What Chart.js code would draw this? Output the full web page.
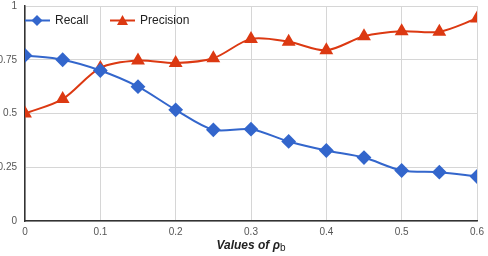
<!DOCTYPE html>
<html>
<head>
<meta charset="utf-8">
<script src="https://cdn.jsdelivr.net/npm/chart.js@4"></script>
<style>
  html, body { margin:0; padding:0; background:#fff; }
  #wrap { position:relative; width:488px; height:256px; }
  #xtitle { position:absolute; left:25px; width:452px; top:238px; text-align:center;
            font-family: Arial, "Liberation Sans", sans-serif; font-size:12px; font-weight:bold; font-style:italic; color:#222; }
  #xtitle sub { font-weight:normal; font-style:normal; font-size:10px; vertical-align:-2px; }
  .lg { position:absolute; top:12px; height:16px; display:flex; align-items:center;
        font-family: Arial, "Liberation Sans", sans-serif; font-size:12px; color:#222; }
  .lg svg { margin-right:5px; }
  canvas { display:block; }
</style>
</head>
<body>
<div id="wrap">
  <canvas id="c" width="488" height="256"></canvas>
  <div id="legend"></div>
  <div id="xtitle">Values of ρ<sub>b</sub></div>
</div>
<script>
const categories = [0, 0.05, 0.1, 0.15, 0.2, 0.25, 0.3, 0.35, 0.4, 0.45, 0.5, 0.55, 0.6];
const recall    = [0.77, 0.75, 0.70, 0.625, 0.517, 0.424, 0.427, 0.37, 0.328, 0.295, 0.235, 0.227, 0.207];
const precision = [0.50, 0.567, 0.712, 0.746, 0.735, 0.757, 0.847, 0.834, 0.794, 0.859, 0.882, 0.88, 0.942];
const xTickLabels = ['0', '0.1', '0.2', '0.3', '0.4', '0.5', '0.6'];
const yTickLabels = ['0', '0.25', '0.5', '0.75', '1'];
const seriesNames = ['Recall', 'Precision'];
const seriesColors = ['#3366CC', '#DC3912'];

const FONT = "Arial, 'Liberation Sans', sans-serif";

// HTML legend (real text), icons = line + marker
const legendLeft = [25, 110];
const markerShapes = [
  c => `<polygon points="12,7 17.5,12.5 12,18 6.5,12.5" fill="${c}"/>`,
  c => `<polygon points="12.5,7 18,17 7,17" fill="${c}"/>`
];
const legendEl = document.getElementById('legend');
seriesNames.forEach((name, i) => {
  const d = document.createElement('div');
  d.className = 'lg';
  d.style.left = legendLeft[i] + 'px';
  d.innerHTML = `<svg width="25" height="24"><line x1="0" y1="12.5" x2="25" y2="12.5" stroke="${seriesColors[i]}" stroke-width="2"/>${markerShapes[i](seriesColors[i])}</svg>`;
  const s = document.createElement('span');
  s.textContent = name;
  d.appendChild(s);
  legendEl.appendChild(d);
});

const toPoints = arr => categories.map((c, i) => ({ x: c, y: arr[i] }));

new Chart(document.getElementById('c'), {
  type: 'line',
  data: {
    datasets: [
      { label: seriesNames[0], data: toPoints(recall), borderColor: seriesColors[0], backgroundColor: seriesColors[0],
        borderWidth: 2, pointStyle: 'rectRot', pointRadius: 6, pointHoverRadius: 6, tension: 0.3 },
      { label: seriesNames[1], data: toPoints(precision), borderColor: seriesColors[1], backgroundColor: seriesColors[1],
        borderWidth: 2, pointStyle: 'triangle', pointRadius: 6, pointHoverRadius: 6, tension: 0.3 }
    ]
  },
  options: {
    responsive: false,
    animation: false,
    layout: { autoPadding: false, padding: { top: 6, right: 11, left: 0, bottom: 0 } },
    plugins: {
      tooltip: { enabled: false },
      legend: { display: false }
    },
    scales: {
      x: {
        type: 'linear', min: 0, max: 0.6,
        afterFit(s) { s.height = 35; s.paddingLeft = 0; s.paddingRight = 0; },
        grid: { color: '#d6d6d6', drawTicks: false, tickLength: 0 },
        border: { color: '#333', width: 1.5 },
        ticks: {
          stepSize: 0.1, padding: 5, color: '#555', font: { family: FONT, size: 10 },
          callback: (v) => xTickLabels[Math.round(v * 10)]
        }
      },
      y: {
        min: 0, max: 1,
        afterFit(s) { s.width = 25; s.paddingTop = 0; s.paddingBottom = 0; },
        grid: { color: '#d6d6d6', drawTicks: false, tickLength: 0 },
        border: { color: '#333', width: 1.5 },
        ticks: {
          stepSize: 0.25, padding: 8, color: '#555', font: { family: FONT, size: 10 },
          callback: (v) => yTickLabels[Math.round(v * 4)]
        }
      }
    }
  }
});
</script>
</body>
</html>
